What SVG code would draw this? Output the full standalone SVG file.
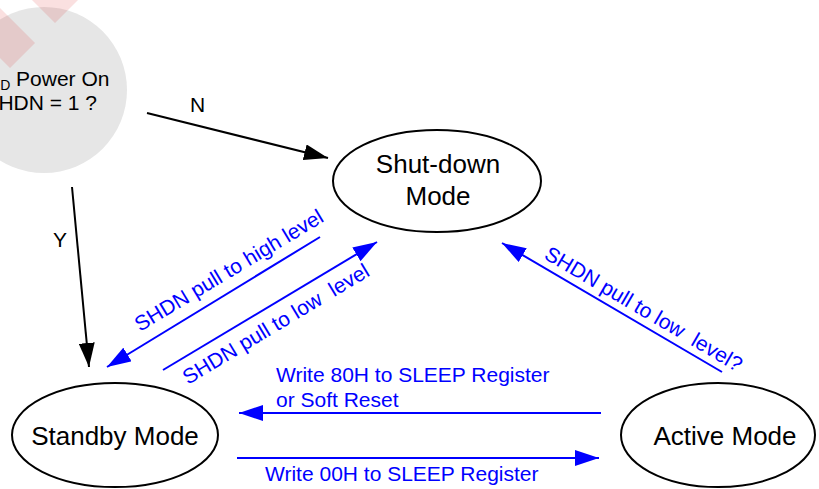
<svg xmlns="http://www.w3.org/2000/svg" width="819" height="489" viewBox="0 0 819 489">
<style>
.node{fill:#ffffff;stroke:#000000;stroke-width:2}
.nt{font-family:"Liberation Sans",Arial,sans-serif;font-size:26px;fill:#000000}
.lbl{font-family:"Liberation Sans",Arial,sans-serif;font-size:21px;fill:#000000}
.bl{font-family:"Liberation Sans",Arial,sans-serif;font-size:21px;fill:#0000ff;white-space:pre}
.k{stroke:#000000;stroke-width:2;fill:none}
.b{stroke:#0000ff;stroke-width:2;fill:none}
</style>
<defs>
<marker id="ak" markerUnits="userSpaceOnUse" markerWidth="24" markerHeight="16" refX="24" refY="8" orient="auto">
<path d="M0,0 L24,8 L0,16 z" fill="#000000"/>
</marker>
<marker id="ab" markerUnits="userSpaceOnUse" markerWidth="24" markerHeight="16" refX="24" refY="8" orient="auto">
<path d="M0,0 L24,8 L0,16 z" fill="#0000ff"/>
</marker>
</defs>
<rect width="819" height="489" fill="#ffffff"/>
<g id="power-on">
<circle cx="44" cy="90" r="83" fill="#e6e6e6"/>
<text class="lbl" x="-24" y="86">V<tspan font-size="14" dy="4">DD</tspan><tspan dy="-4"> Power On</tspan></text>
<text class="lbl" x="-15.6" y="110">SHDN = 1 ?</text>
</g>
<g id="watermark" fill="#e03030" fill-opacity="0.15">
<polygon points="35,43 10,68 -40,18 -15,-7"/>
<polygon points="32,0 55,23 78,0 55,-23"/>
</g>
<g id="shutdown">
<ellipse class="node" cx="437" cy="181" rx="104" ry="51"/>
<text class="nt" x="438" y="173" text-anchor="middle">Shut-down</text>
<text class="nt" x="438" y="205" text-anchor="middle">Mode</text>
</g>
<g id="standby">
<ellipse class="node" cx="115" cy="435" rx="103" ry="52"/>
<text class="nt" x="115" y="445" text-anchor="middle">Standby Mode</text>
</g>
<g id="active">
<ellipse class="node" cx="718" cy="435" rx="97" ry="52"/>
<text class="nt" x="725" y="445" text-anchor="middle">Active Mode</text>
</g>
<g id="connectors">
<line class="k" x1="147" y1="113" x2="328" y2="158" marker-end="url(#ak)"/>
<line class="k" x1="72" y1="187" x2="89" y2="367" marker-end="url(#ak)"/>
<line class="b" x1="320" y1="237" x2="107" y2="367" marker-end="url(#ab)"/>
<line class="b" x1="163" y1="370" x2="377" y2="242" marker-end="url(#ab)"/>
<line class="b" x1="722" y1="372" x2="502" y2="243" marker-end="url(#ab)"/>
<line class="b" x1="601" y1="413" x2="239" y2="413" marker-end="url(#ab)"/>
<line class="b" x1="237" y1="458" x2="599" y2="458" marker-end="url(#ab)"/>
<text class="lbl" x="190" y="112">N</text>
<text class="lbl" x="53" y="247">Y</text>
<text class="bl" transform="translate(140,332) rotate(-31)">SHDN pull to high level</text>
<text class="bl" transform="translate(188,385) rotate(-31)">SHDN pull to low  level</text>
<text class="bl" transform="translate(543,258) rotate(30.5)">SHDN pull to low  level?</text>
<text class="bl" x="276" y="382">Write 80H to SLEEP Register</text>
<text class="bl" x="276" y="407">or Soft Reset</text>
<text class="bl" x="265" y="481">Write 00H to SLEEP Register</text>
</g>
</svg>
